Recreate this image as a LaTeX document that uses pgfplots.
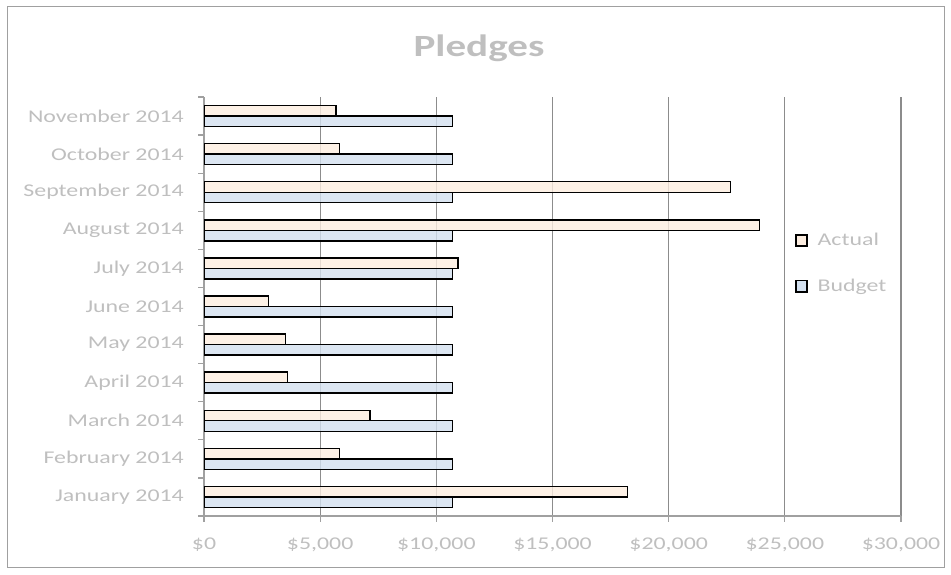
\documentclass[border=0pt]{standalone}
\usepackage{fontspec}
\setmainfont{Carlito}[FakeStretch=1.33]
\usepackage{pgfplots}
\pgfplotsset{compat=1.18}
\definecolor{txt}{HTML}{BFBFBF}
\definecolor{gridc}{HTML}{8C8C8C}
\definecolor{axc}{HTML}{A0A0A0}
\definecolor{actfill}{HTML}{FCEDE0}
\definecolor{budfill}{HTML}{D3E0EF}
\begin{document}
\begin{tikzpicture}[x=1bp,y=1bp]
\useasboundingbox (0,0) rectangle (951,575);
\draw[color=axc, line width=1bp] (7,7) rectangle (944,568);
\node[anchor=base, text=txt, inner sep=0pt, font=\fontsize{31}{34}\selectfont\bfseries] at (479,518) {Pledges};
\begin{axis}[
  at={(204bp,59bp)}, anchor=south west, scale only axis,
  width=697bp, height=419bp,
  xbar, bar width=10.5bp,
  xmin=0, xmax=30000, ymin=-0.5, ymax=10.5,
  scaled x ticks=false,
  axis x line*=bottom, axis y line*=left,
  axis line style={draw=axc, line width=1.2bp},
  xtick={0,5000,...,30000},
  xticklabels={{\$0},{\$5,000},{\$10,000},{\$15,000},{\$20,000},{\$25,000},{\$30,000}},
  xmajorgrids, grid style={draw=gridc, line width=1.2bp},
  ytick={0,...,10},
  yticklabels={January 2014,February 2014,March 2014,April 2014,May 2014,June 2014,July 2014,August 2014,September 2014,October 2014,November 2014},
  minor ytick={-0.5,0.5,...,10.5},
  major y tick style={draw=none},
  minor y tick style={draw=axc, line width=1.2bp},
  x tick style={draw=axc, line width=1.2bp},
  tick align=outside, major tick length=6bp, minor tick length=6bp,
  xtick pos=bottom, ytick pos=left,
  ticklabel style={text=txt, font=\fontsize{18}{20}\selectfont},
  yticklabel style={inner sep=0pt, xshift=-14bp},
  xticklabel style={inner sep=0pt, yshift=-16bp},
  legend style={at={(0.848,0.603)}, anchor=west, draw=none, fill=none, inner sep=0pt,
    font=\fontsize{18}{20}\selectfont, text=txt, row sep=28bp},
  legend cell align=left,
  legend image code/.code={\draw[#1, line width=1.4bp, fill opacity=1] (0bp,-5.5bp) rectangle (11bp,5.5bp); \path (19bp,0bp);},
]
\addplot[draw=black, line width=1.4bp, fill=actfill, fill opacity=0.8, bar shift=5.25bp] coordinates {
(18220,0) (5840,1) (7150,2) (3590,3) (3520,4) (2780,5) (10930,6) (23900,7) (22650,8) (5840,9) (5680,10)};
\addlegendentry{Actual}
\addplot[draw=black, line width=1.4bp, fill=budfill, fill opacity=0.8, bar shift=-5.25bp] coordinates {
(10690,0) (10690,1) (10690,2) (10690,3) (10690,4) (10690,5) (10690,6) (10690,7) (10690,8) (10690,9) (10690,10)};
\addlegendentry{Budget}
\end{axis}
\end{tikzpicture}
\end{document}
